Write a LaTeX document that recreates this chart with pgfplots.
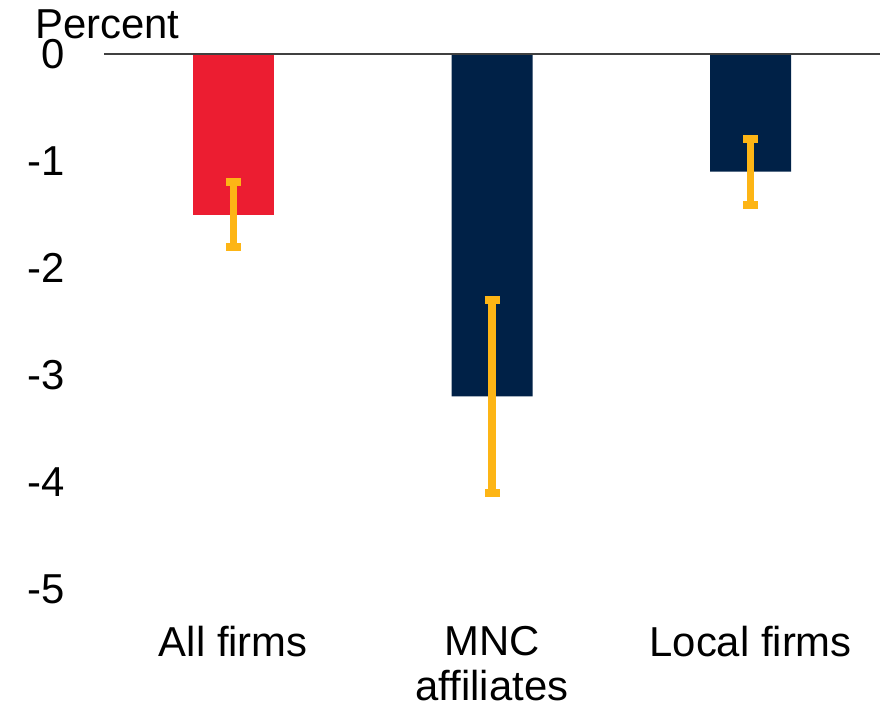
\documentclass[border=0pt]{standalone}
\usepackage{pgfplots}
\pgfplotsset{compat=1.18}
\usepackage{fontspec}
\setmainfont{Liberation Sans}
\definecolor{barred}{HTML}{EC1D31}
\definecolor{barnavy}{HTML}{002147}
\definecolor{erryel}{HTML}{FDB515}
\begin{document}
\begin{tikzpicture}
\path (0,0) rectangle (885bp,-712bp);
\begin{axis}[
  at={(104bp,-589bp)}, anchor=south west,
  scale only axis, width=776bp, height=535bp,
  xmin=-0.5, xmax=2.5, ymin=-5, ymax=0,
  axis line style={draw=none},
  major tick length=0pt,
  xtick={0,1,2},
  xticklabels={All firms, MNC\\affiliates, Local firms},
  xticklabel style={align=center, anchor=north, inner sep=0pt, yshift=-37bp,
    font=\fontsize{42}{45}\selectfont},
  ytick={-5,-4,-3,-2,-1,0},
  yticklabels={-5,-4,-3,-2,-1,0},
  yticklabel style={anchor=east, inner sep=0pt, xshift=-39bp,
    font=\fontsize{42}{50}\selectfont},
  clip=false,
  ybar, bar width=81bp,
]
\addplot[fill=barred, draw=none, bar shift=0pt,
  error bars/.cd, y dir=both, y explicit,
  error bar style={line width=7.5bp, erryel},
  error mark options={line width=8bp, mark size=7.5bp, erryel, rotate=90}]
  coordinates {(0,-1.5) +- (0,0.3)};
\addplot[fill=barnavy, draw=none, bar shift=0pt,
  error bars/.cd, y dir=both, y explicit,
  error bar style={line width=7.5bp, erryel},
  error mark options={line width=8bp, mark size=7.5bp, erryel, rotate=90}]
  coordinates {(1,-3.2) +- (0,0.9) (2,-1.1) +- (0,0.31)};
\draw[line width=1.5bp, black!75] (axis cs:-0.5,0) -- (axis cs:2.5,0);
\node[anchor=base west, inner sep=0pt, font=\fontsize{42}{50}\selectfont]
  at ([xshift=-69bp, yshift=16bp]rel axis cs:0,1) {Percent};
\end{axis}
\end{tikzpicture}
\end{document}
